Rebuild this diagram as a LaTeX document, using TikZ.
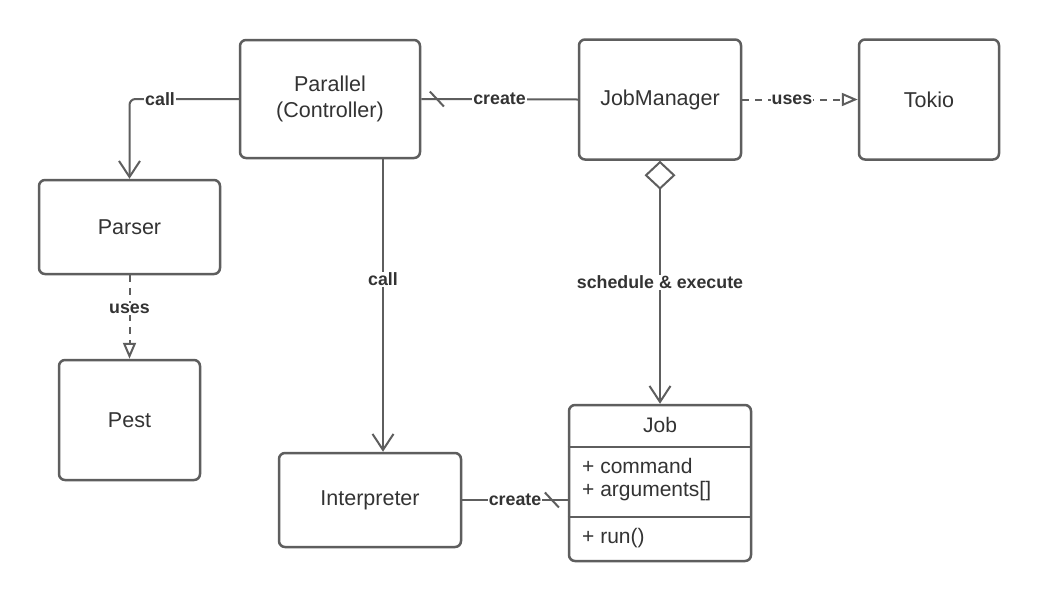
\documentclass[tikz,border=0pt]{standalone}
\usepackage{fontspec}
\setmainfont{Liberation Sans}
\usetikzlibrary{arrows.meta}
\definecolor{ln}{HTML}{5E5E5E}
\definecolor{tx}{HTML}{333333}
\begin{document}
\begin{tikzpicture}[x=1pt,y=-1pt,
  box/.style={draw=ln,line width=2.5pt,rounded corners=6pt,fill=white,inner sep=0pt,text=tx,font=\fontsize{21.5}{26}\selectfont,align=center},
  conn/.style={draw=ln,line width=2pt},
  lbl/.style={fill=white,text=tx,font=\fontsize{17.8}{20}\selectfont\bfseries,inner sep=1pt},
  itemtxt/.style={text=tx,font=\fontsize{21}{25}\selectfont,inner sep=0pt},
  openarr/.style={-{Straight Barb[length=16pt,width=21pt]}},
  dep/.style={dash pattern=on 7pt off 6pt,-{Triangle[length=16pt,width=13pt,fill=white]}},
  agg/.style={{Diamond[length=29pt,width=31pt,fill=white]}-{Straight Barb[length=16pt,width=21pt]}}
]
\fill[white] (0,0) rectangle (1040,600);
\useasboundingbox (0,0) rectangle (1040,600);

\node[box,minimum width=180pt,minimum height=118pt] (par) at (330,99) {Parallel\\(Controller)};
\node[box,minimum width=162pt,minimum height=120pt] (jm) at (660,99.5) {JobManager};
\node[box,minimum width=140pt,minimum height=120pt] (tok) at (929,99.5) {Tokio};
\node[box,minimum width=181pt,minimum height=94pt] (psr) at (129.5,227) {Parser};
\node[box,minimum width=141pt,minimum height=120pt] (pest) at (129.5,420) {Pest};
\node[box,minimum width=182pt,minimum height=94pt] (itp) at (370,500) {Interpreter};
\node[box,minimum width=182pt,minimum height=156pt] (job) at (660,483) {};

% Job class compartments
\draw[draw=ln,line width=2.5pt] (job.west |- 0,447) -- (job.east |- 0,447);
\draw[draw=ln,line width=2.5pt] (job.west |- 0,517) -- (job.east |- 0,517);
\node[itemtxt,anchor=base] (jobt) at (660,432) {Job};
\node[itemtxt,anchor=base west] (jc) at (582,473) {+ command};
\node[itemtxt,anchor=base west] (ja) at (582,496) {+ arguments[]};
\node[itemtxt,anchor=base west] (jr) at (582,543) {+ run()};

% connectors
\draw[conn,openarr,rounded corners=6pt] (par.west) -| node[lbl,pos=0.36] {call} (psr.north);
\draw[conn] (par.east) -- coordinate[pos=0.1] (t1) node[lbl,midway] {create} (jm.west);
\draw[conn] (t1) ++(-7,-7.5) -- ++(14,15);
\draw[conn,dep] (jm.east) -- node[lbl,pos=0.43] {uses} (tok.west);
\draw[conn,agg] (jm.south) -- node[lbl,midway] {schedule \& execute} (job.north);
\draw[conn,openarr] ([xshift=53pt]par.south) -- node[lbl,pos=0.41] {call} ([xshift=13pt]itp.north);
\draw[conn,dep] (psr.south) -- node[lbl,pos=0.4] {uses} (pest.north);
\draw[conn] (itp.east) -- coordinate[pos=0.85] (t2) node[lbl,midway] {create} (job.west |- itp.east);
\draw[conn] (t2) ++(-7,-7.5) -- ++(14,15);
\end{tikzpicture}
\end{document}
